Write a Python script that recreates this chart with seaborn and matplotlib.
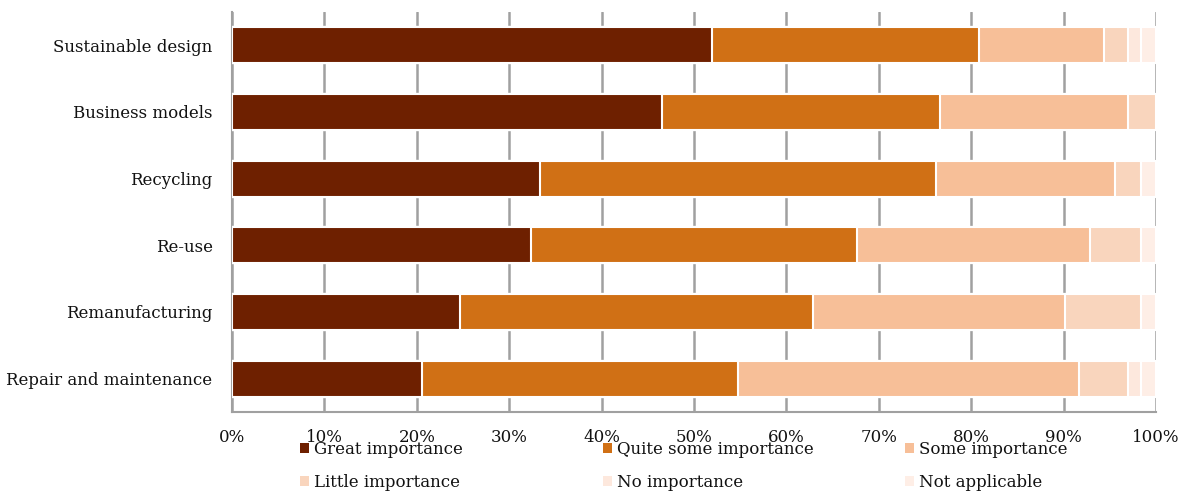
import matplotlib
matplotlib.use("Agg")
import matplotlib.pyplot as plt
import matplotlib.patches as mpatches
import seaborn as sns
import pandas as pd
import numpy as np

categories = ["Sustainable design", "Business models", "Recycling", "Re-use",
              "Remanufacturing", "Repair and maintenance"]
series_names = ["Great importance", "Quite some importance", "Some importance",
                "Little importance", "No importance", "Not applicable"]
great = [51.9, 46.5, 33.3, 32.4, 24.7, 20.6]
quite = [28.9, 30.1, 42.9, 35.2, 38.2, 34.2]
some = [13.6, 20.4, 19.4, 25.3, 27.3, 36.9]
little = [2.6, 3.0, 2.8, 5.5, 8.2, 5.3]
no_imp = [1.4, 0.0, 0.0, 0.0, 0.0, 1.4]
not_app = [1.6, 0.0, 1.6, 1.6, 1.6, 1.6]
tick_labels = ["0%", "10%", "20%", "30%", "40%", "50%", "60%", "70%", "80%", "90%", "100%"]

colors = ["#6E2000", "#D07015", "#F7BF98", "#F9D5BD", "#FDE8DD", "#FEEEE6"]

series = [great, quite, some, little, no_imp, not_app]
cum = np.cumsum(np.array(series), axis=0)

sns.set_theme(style="white")
plt.rcParams["font.family"] = ["DejaVu Serif"]
plt.rcParams["text.color"] = "#111111"
plt.rcParams["xtick.color"] = "#111111"
plt.rcParams["ytick.color"] = "#111111"

fig = plt.figure(figsize=(11.86, 4.95), dpi=100)
ax = fig.add_axes([232/1186, 1-412/495, 924/1186, 400/495])

for i in range(len(series) - 1, -1, -1):
    df = pd.DataFrame({"cat": categories, "val": cum[i]})
    sns.barplot(data=df, x="val", y="cat", order=categories, color=colors[i],
                width=0.54, edgecolor="white", linewidth=1.5, saturation=1,
                ax=ax, zorder=3 + (len(series) - i))

ax.set_xlim(0, 100)
ax.set_ylim(5.5, -0.5)
ax.set_xticks(np.arange(0, 101, 10))
ax.set_xticklabels(tick_labels, fontsize=12)
ax.tick_params(axis="x", length=0, pad=12, labelcolor="#111111")
ax.tick_params(axis="y", length=0, pad=14, labelsize=12, labelcolor="#111111")
ax.set_xlabel("")
ax.set_ylabel("")
ax.xaxis.grid(True, color="#A0A0A0", linewidth=1.8, zorder=0)
ax.set_axisbelow(True)
for s in ["top", "right"]:
    ax.spines[s].set_visible(False)
for s in ["left", "bottom"]:
    ax.spines[s].set_color("#A0A0A0")
    ax.spines[s].set_linewidth(1.5)

handles = [mpatches.Patch(facecolor=c, edgecolor="none") for c in colors]
xs = [300/1186, 603/1186, 905/1186]
for k in range(3):
    hs = [handles[k], handles[k + 3]]
    ls = [series_names[k], series_names[k + 3]]
    fig.legend(hs, ls, loc="upper left", bbox_to_anchor=(xs[k], 1-441/495),
               frameon=False, fontsize=12, handlelength=0.55, handleheight=0.55,
               handletextpad=0.3, labelspacing=0.95, borderpad=0, borderaxespad=0,
               labelcolor="#111111")

fig.savefig("out.png", dpi=100)
